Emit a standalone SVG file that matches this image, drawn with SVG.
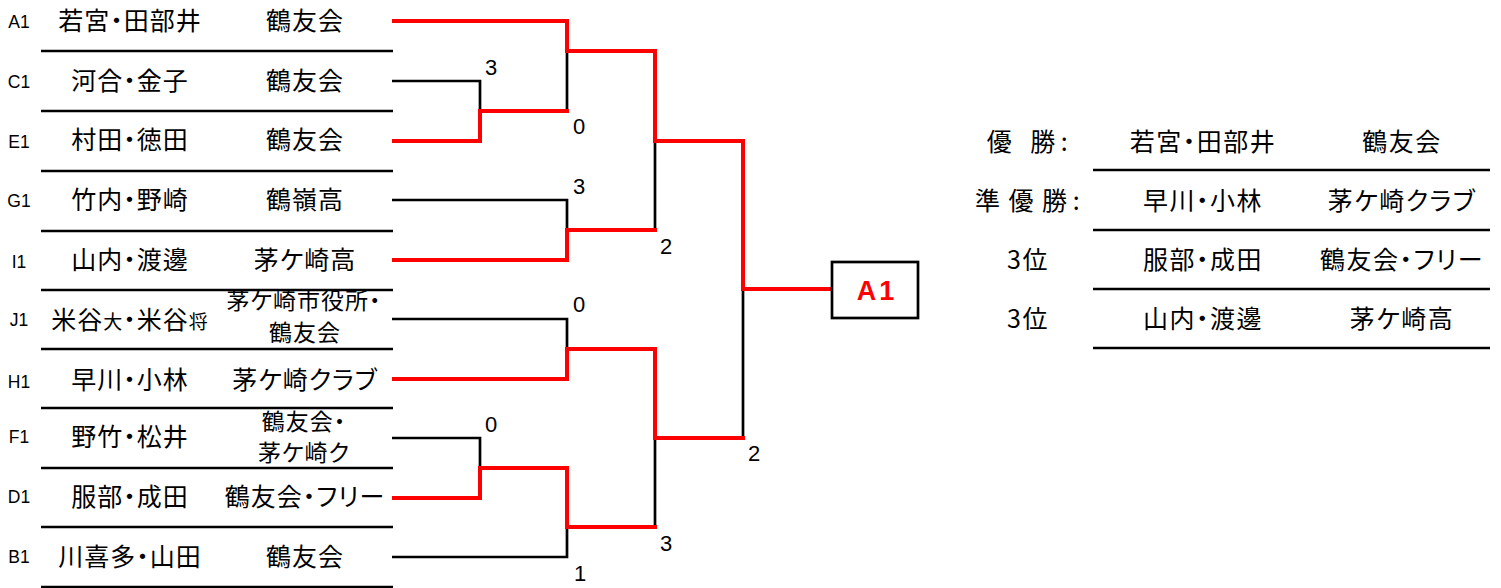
<svg xmlns="http://www.w3.org/2000/svg" width="1501" height="588" viewBox="0 0 1501 588">
<style>
  .sep { stroke: #000; stroke-width: 2.7; fill: none; }
  .blk { stroke: #000; stroke-width: 2.7; fill: none; }
  .red { stroke: #FF0000; stroke-width: 4; fill: none; stroke-linejoin: miter; stroke-linecap: square; }
  .jp { font-family: "Noto Sans CJK JP", "Noto Sans", sans-serif; font-size: 25px; letter-spacing: 1px; fill: #000; text-anchor: middle; font-feature-settings: "palt"; }
  .jp2 { font-family: "Noto Sans CJK JP", "Noto Sans", sans-serif; font-size: 23px; letter-spacing: 1px; fill: #000; text-anchor: middle; font-feature-settings: "palt"; }
  .jps { font-family: "Noto Sans CJK JP", "Noto Sans", sans-serif; font-size: 25px; letter-spacing: 1.5px; fill: #000; text-anchor: middle; font-feature-settings: "palt"; }
  .lbl { font-family: "Liberation Sans", Arial, sans-serif; font-size: 17.5px; fill: #000; text-anchor: middle; }
  .score { font-family: "Liberation Sans", Arial, sans-serif; font-size: 22px; fill: #000; text-anchor: middle; }
  .win { font-family: "Liberation Sans", Arial, sans-serif; font-size: 27px; font-weight: bold; fill: #FF0000; text-anchor: middle; letter-spacing: 3px; }
</style>
<rect width="1501" height="588" fill="#fff"/>

<g id="separators">
  <line class="sep" x1="41" y1="51" x2="393" y2="51"/>
  <line class="sep" x1="41" y1="111" x2="393" y2="111"/>
  <line class="sep" x1="41" y1="171" x2="393" y2="171"/>
  <line class="sep" x1="41" y1="231" x2="393" y2="231"/>
  <line class="sep" x1="41" y1="290" x2="393" y2="290"/>
  <line class="sep" x1="41" y1="349" x2="393" y2="349"/>
  <line class="sep" x1="41" y1="408" x2="393" y2="408"/>
  <line class="sep" x1="41" y1="468" x2="393" y2="468"/>
  <line class="sep" x1="41" y1="527" x2="393" y2="527"/>
  <line class="sep" x1="41" y1="587" x2="393" y2="587"/>
</g>

<g id="node-A1">
  <text class="lbl" x="19" y="28">A1</text>
  <text class="jp" x="130" y="30">若宮・田部井</text>
  <text class="jp" x="305" y="30">鶴友会</text>
</g>
<g id="node-C1">
  <text class="lbl" x="19" y="88">C1</text>
  <text class="jp" x="130" y="90">河合・金子</text>
  <text class="jp" x="305" y="90">鶴友会</text>
</g>
<g id="node-E1">
  <text class="lbl" x="19" y="148">E1</text>
  <text class="jp" x="130" y="149">村田・徳田</text>
  <text class="jp" x="305" y="149">鶴友会</text>
</g>
<g id="node-G1">
  <text class="lbl" x="19" y="207">G1</text>
  <text class="jp" x="130" y="209">竹内・野崎</text>
  <text class="jp" x="305" y="209">鶴嶺高</text>
</g>
<g id="node-I1">
  <text class="lbl" x="19" y="268">I1</text>
  <text class="jp" x="130" y="269">山内・渡邊</text>
  <text class="jp" x="305" y="269">茅ケ崎高</text>
</g>
<g id="node-J1">
  <text class="lbl" x="19" y="326">J1</text>
  <text class="jp" x="130" y="329">米谷<tspan font-size="19">大</tspan>・米谷<tspan font-size="19">将</tspan></text>
  <text class="jp2" x="304" y="309">茅ケ崎市役所・</text>
  <text class="jp2" x="305" y="341">鶴友会</text>
</g>
<g id="node-H1">
  <text class="lbl" x="19" y="388">H1</text>
  <text class="jp" x="130" y="389">早川・小林</text>
  <text class="jp" x="305" y="389">茅ケ崎クラブ</text>
</g>
<g id="node-F1">
  <text class="lbl" x="19" y="443">F1</text>
  <text class="jp" x="130" y="446">野竹・松井</text>
  <text class="jp2" x="304" y="430">鶴友会・</text>
  <text class="jp2" x="304" y="461">茅ケ崎ク</text>
</g>
<g id="node-D1">
  <text class="lbl" x="19" y="503">D1</text>
  <text class="jp" x="130" y="506">服部・成田</text>
  <text class="jp" x="305" y="506">鶴友会・フリー</text>
</g>
<g id="node-B1">
  <text class="lbl" x="19" y="563">B1</text>
  <text class="jp" x="130" y="566">川喜多・山田</text>
  <text class="jp" x="305" y="566">鶴友会</text>
</g>

<g id="connectors">
  <path class="blk" d="M392,81 H480 V111"/>
  <path class="blk" d="M567,51 V111"/>
  <path class="blk" d="M392,200 H567 V230"/>
  <path class="blk" d="M655,141 V230"/>
  <path class="blk" d="M392,319 H567 V349"/>
  <path class="blk" d="M743,289 V438"/>
  <path class="blk" d="M392,438 H480 V468"/>
  <path class="blk" d="M655,438 V527"/>
  <path class="blk" d="M392,557 H567 V527"/>
  <path class="red" d="M394,21 H567 V51 H655 V141 H743 V289 H830"/>
  <path class="red" d="M394,141 H480 V111 H567"/>
  <path class="red" d="M394,260 H567 V230 H655"/>
  <path class="red" d="M394,379 H567 V349 H655 V438 H743"/>
  <path class="red" d="M394,498 H480 V468 H567 V527 H655"/>
</g>

<g id="scores">
  <text class="score" x="491" y="75">3</text>
  <text class="score" x="579" y="134">0</text>
  <text class="score" x="579" y="194">3</text>
  <text class="score" x="666" y="254">2</text>
  <text class="score" x="579" y="312">0</text>
  <text class="score" x="491" y="432">0</text>
  <text class="score" x="580" y="581">1</text>
  <text class="score" x="666" y="551">3</text>
  <text class="score" x="754" y="461">2</text>
</g>

<g id="winner">
  <rect x="832" y="262" width="86" height="56" fill="#fff" stroke="#000" stroke-width="2.7"/>
  <text class="win" x="877" y="300">A1</text>
</g>

<g id="results">
  <line class="sep" x1="1093" y1="170" x2="1490" y2="170"/>
  <line class="sep" x1="1093" y1="230" x2="1490" y2="230"/>
  <line class="sep" x1="1093" y1="289" x2="1490" y2="289"/>
  <line class="sep" x1="1093" y1="348" x2="1490" y2="348"/>
  <text class="jps" x="1028" y="151">優 <tspan dx="10">勝</tspan><tspan dx="4">:</tspan></text>
  <text class="jps" x="1203" y="151">若宮・田部井</text>
  <text class="jps" x="1402" y="151">鶴友会</text>
  <text class="jps" x="1028" y="210">準 優 勝<tspan dx="4">:</tspan></text>
  <text class="jps" x="1203" y="210">早川・小林</text>
  <text class="jps" x="1402" y="210">茅ケ崎クラブ</text>
  <text class="jps" x="1028" y="269">3位</text>
  <text class="jps" x="1203" y="269">服部・成田</text>
  <text class="jps" x="1402" y="269">鶴友会・フリー</text>
  <text class="jps" x="1028" y="328">3位</text>
  <text class="jps" x="1203" y="328">山内・渡邊</text>
  <text class="jps" x="1402" y="328">茅ケ崎高</text>
</g>
</svg>
